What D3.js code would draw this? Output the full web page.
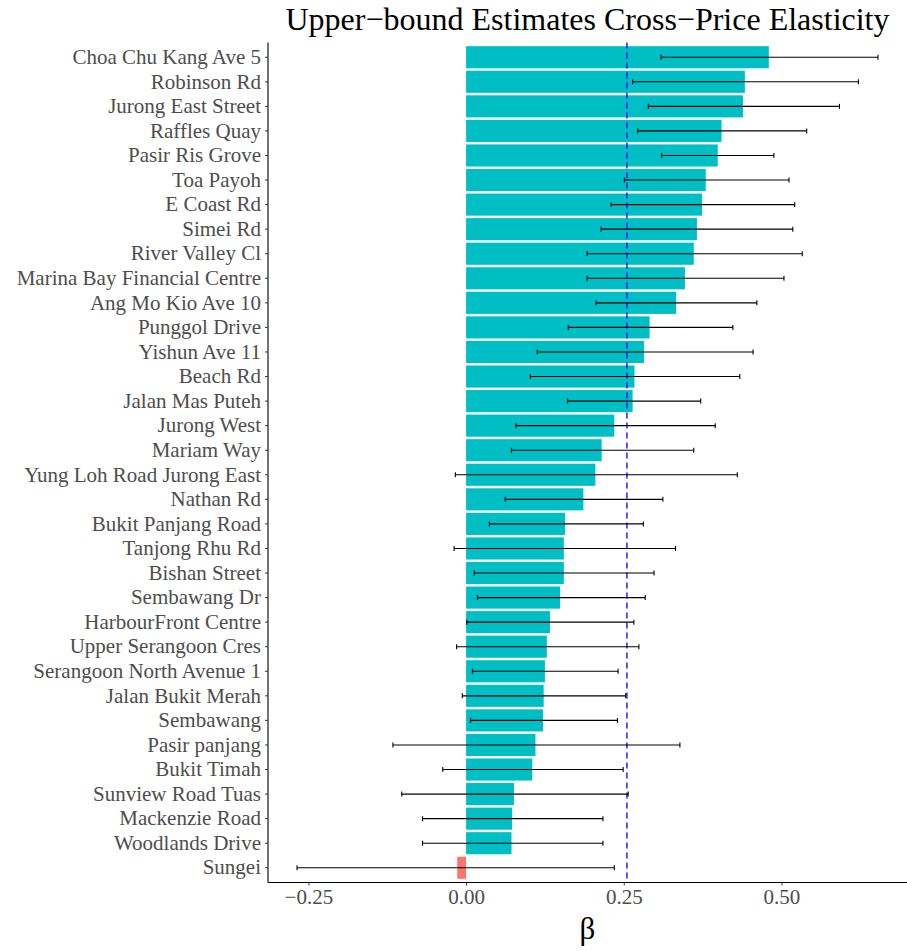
<!DOCTYPE html>
<html><head><meta charset="utf-8">
<script src="https://cdn.jsdelivr.net/npm/d3@7"></script>
<style>body{margin:0;background:#fff}</style>
</head><body>
<svg id="chart" width="907" height="951"></svg>
<script>
const categories = ["Choa Chu Kang Ave 5","Robinson Rd","Jurong East Street","Raffles Quay","Pasir Ris Grove","Toa Payoh","E Coast Rd","Simei Rd","River Valley Cl","Marina Bay Financial Centre","Ang Mo Kio Ave 10","Punggol Drive","Yishun Ave 11","Beach Rd","Jalan Mas Puteh","Jurong West","Mariam Way","Yung Loh Road Jurong East","Nathan Rd","Bukit Panjang Road","Tanjong Rhu Rd","Bishan Street","Sembawang Dr","HarbourFront Centre","Upper Serangoon Cres","Serangoon North Avenue 1","Jalan Bukit Merah","Sembawang","Pasir panjang","Bukit Timah","Sunview Road Tuas","Mackenzie Road","Woodlands Drive","Sungei"];
const estimates = [0.480,0.442,0.439,0.405,0.399,0.380,0.374,0.366,0.361,0.347,0.333,0.291,0.282,0.267,0.264,0.235,0.215,0.205,0.186,0.157,0.155,0.155,0.149,0.133,0.128,0.125,0.123,0.122,0.110,0.105,0.076,0.073,0.072,-0.014];
const lower = [0.309,0.264,0.289,0.272,0.310,0.251,0.230,0.214,0.192,0.192,0.206,0.162,0.113,0.102,0.161,0.079,0.072,-0.017,0.062,0.037,-0.019,0.013,0.018,0.001,-0.015,0.010,-0.006,0.007,-0.116,-0.037,-0.102,-0.069,-0.069,-0.268];
const upper = [0.653,0.622,0.592,0.540,0.488,0.512,0.521,0.518,0.533,0.504,0.461,0.423,0.455,0.434,0.372,0.395,0.361,0.430,0.312,0.281,0.332,0.298,0.284,0.266,0.274,0.241,0.253,0.240,0.339,0.249,0.257,0.217,0.217,0.235];
const referenceLine = 0.255;
const xTicks = [-0.25, 0, 0.25, 0.5];
const title = "Upper\u2212bound Estimates Cross\u2212Price Elasticity";
const xTitle = "\u03B2";

const svg = d3.select("#chart");
const margin = {left: 268, right: 907, top: 42.5, bottom: 882.5};
const font = "'Liberation Serif', 'Times New Roman', serif";

const lo = d3.min(lower), hi = d3.max(upper);
const pad = (hi - lo) * 0.05;
const x = d3.scaleLinear().domain([lo - pad, hi + pad]).range([margin.left, margin.right]);
const y = d3.scaleBand().domain(categories).range([margin.top, margin.bottom]).paddingInner(0.1).paddingOuter(0.15);

const data = categories.map((c, i) => ({c, v: estimates[i], lo: lower[i], hi: upper[i]}));

// bars
svg.append("g").selectAll("rect").data(data).join("rect")
  .attr("x", d => x(Math.min(0, d.v)))
  .attr("width", d => Math.abs(x(d.v) - x(0)))
  .attr("y", d => y(d.c))
  .attr("height", y.bandwidth())
  .attr("fill", d => d.v < 0 ? "#F8766D" : "#00BFC4");

// reference line
svg.append("line")
  .attr("x1", x(referenceLine)).attr("x2", x(referenceLine))
  .attr("y1", margin.top).attr("y2", margin.bottom)
  .attr("stroke", "#0000FF").attr("stroke-width", 1.3).attr("stroke-dasharray", "6,4");

// error bars
const eb = svg.append("g").attr("stroke", "#000").attr("stroke-width", 1.1);
data.forEach(d => {
  const cy = y(d.c) + y.bandwidth() / 2;
  eb.append("line").attr("x1", x(d.lo)).attr("x2", x(d.hi)).attr("y1", cy).attr("y2", cy);
  eb.append("line").attr("x1", x(d.lo)).attr("x2", x(d.lo)).attr("y1", cy - 2.5).attr("y2", cy + 2.5);
  eb.append("line").attr("x1", x(d.hi)).attr("x2", x(d.hi)).attr("y1", cy - 2.5).attr("y2", cy + 2.5);
});

// axes
const xAxis = svg.append("g").attr("transform", `translate(0,${margin.bottom})`)
  .call(d3.axisBottom(x).tickValues(xTicks).tickFormat(d3.format(".2f")).tickSize(3).tickPadding(4));
const yAxis = svg.append("g").attr("transform", `translate(${margin.left},0)`)
  .call(d3.axisLeft(y).tickSize(3).tickPadding(4));
[xAxis, yAxis].forEach(a => {
  a.select(".domain").attr("stroke", "#000").attr("stroke-width", 1.1);
  a.selectAll(".tick line").attr("stroke", "#333");
  a.selectAll(".tick text").attr("fill", "#4D4D4D").style("font-family", font).style("font-size", "21px");
});
xAxis.selectAll(".tick text").text(d => d3.format(".2f")(d).replace("-", "\u2212"));
xAxis.select(".domain").attr("d", `M${margin.left},0H${margin.right}`);
yAxis.select(".domain").attr("d", `M0,${margin.top}V${margin.bottom}`);

// titles
svg.append("text").attr("x", (margin.left + margin.right) / 2).attr("y", 30)
  .attr("text-anchor", "middle").style("font-family", font).style("font-size", "32px").attr("fill", "#000")
  .text(title);
svg.append("text").attr("x", (margin.left + margin.right) / 2).attr("y", 939)
  .attr("text-anchor", "middle").style("font-family", font).style("font-size", "31px").attr("fill", "#000")
  .text(xTitle);
</script>
</body></html>
